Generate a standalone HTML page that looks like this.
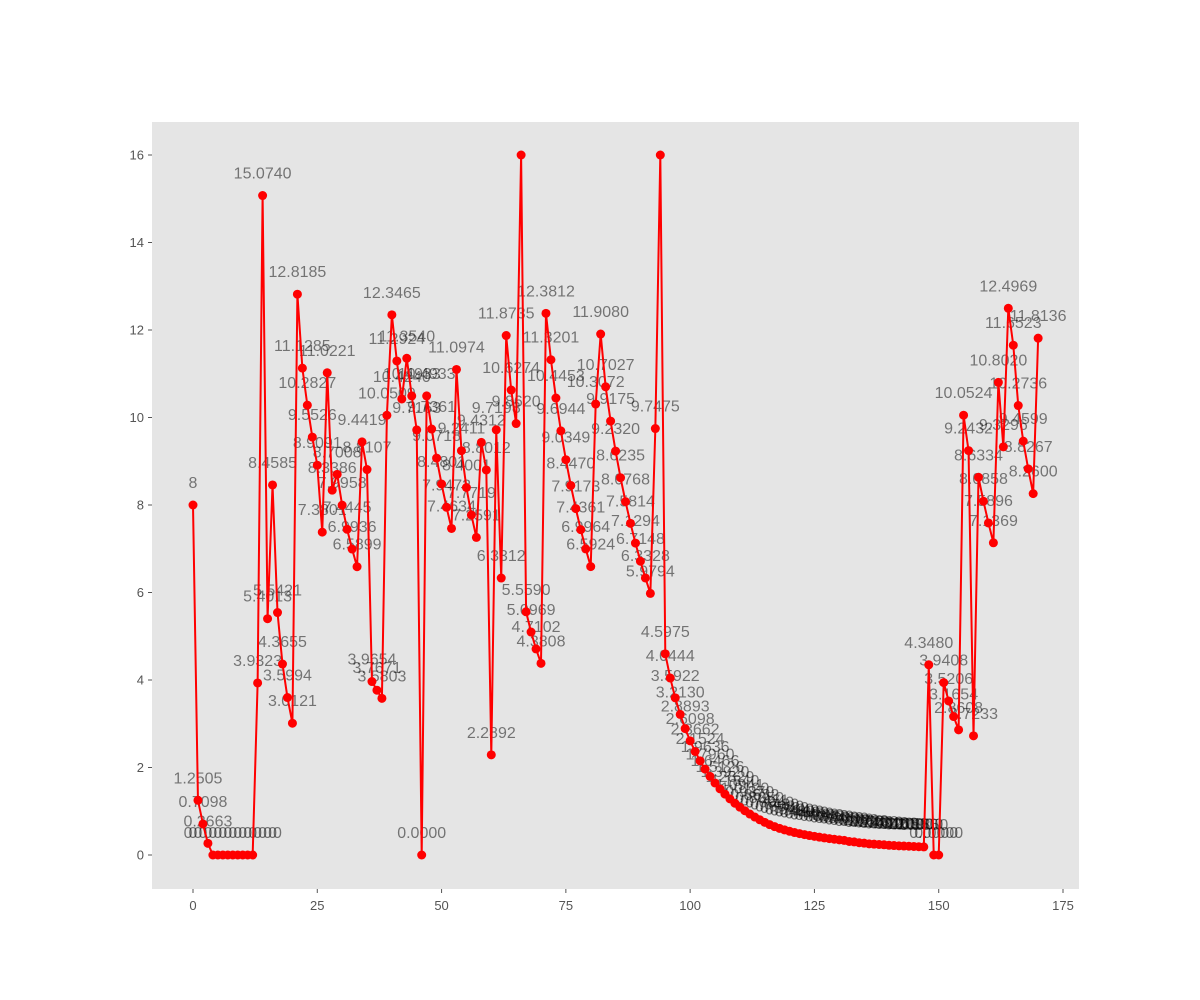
<!DOCTYPE html>
<html><head><meta charset="utf-8"><style>
body{margin:0;background:#fff}
svg{display:block;font-family:"Liberation Sans","DejaVu Sans",sans-serif}
</style></head><body>
<svg id="chart" width="1200" height="1000" xmlns="http://www.w3.org/2000/svg">
<rect x="152" y="122" width="927" height="767" fill="#e5e5e5"/>
<g id="xt"></g>
<g id="yt"></g>
<g id="lbl"></g>
<g id="ser"></g>
</svg>
<script>
const values = [8,1.2505,0.7098,0.2663,0,0,0,0,0,0,0,0,0,3.9323,15.0740,5.4013,8.4585,5.5421,4.3655,3.5994,3.0121,12.8185,11.1285,10.2827,9.5526,8.9091,7.3801,11.0221,8.3386,8.7008,7.9958,7.4445,6.9936,6.5899,9.4419,8.8107,3.9654,3.7671,3.5803,10.0509,12.3465,11.2924,10.4240,11.3540,10.4933,9.7163,0,10.4933,9.7361,9.0718,8.4801,7.9472,7.4634,11.0974,9.2411,8.4001,7.7719,7.2591,9.4312,8.8012,2.2892,9.7198,6.3312,11.8735,10.6274,9.8620,16,5.5590,5.0969,4.7102,4.3808,12.3812,11.3201,10.4453,9.6944,9.0349,8.4470,7.9173,7.4361,6.9964,6.5924,10.3072,11.9080,10.7027,9.9175,9.2320,8.6235,8.0768,7.5814,7.1294,6.7148,6.3328,5.9794,9.7475,16,4.5975,4.0444,3.5922,3.2130,2.8893,2.6098,2.3662,2.1524,1.9636,1.7960,1.6466,1.5126,1.3920,1.2829,1.1840,1.0941,1.0120,0.9370,0.8682,0.8050,0.7471,0.6940,0.6480,0.6080,0.5730,0.5420,0.5140,0.4890,0.4660,0.4450,0.4260,0.4080,0.3910,0.3750,0.3600,0.3460,0.3330,0.3100,0.2990,0.2800,0.2710,0.2550,0.2480,0.2410,0.2340,0.2220,0.2160,0.2100,0.2050,0.2000,0.1950,0.1900,0.1850,4.3480,0,0,3.9408,3.5206,3.1654,2.8608,10.0524,9.2432,2.7233,8.6334,8.0858,7.5896,7.1369,10.8020,9.3296,12.4969,11.6523,10.2736,9.4599,8.8267,8.2600,11.8136];
const integerLabelIdx = [0,4,5,6,7,8,9,10,11,12];
const hiddenLabelIdx = [66,94];
const extraZeroLabelIdx = [-1,0,1,2,3,13,14,15,16,17];
const xTicks = [0,25,50,75,100,125,150,175];
const yTicks = [0,2,4,6,8,10,12,14,16];
const X = v => 193 + v * (870/175);
const Y = v => 855 - v * 43.75;
const NS = "http://www.w3.org/2000/svg";
function mk(tag, attrs, parent){const e=document.createElementNS(NS,tag);for(const k in attrs)e.setAttribute(k,attrs[k]);parent.appendChild(e);return e;}
const xt=document.getElementById('xt'), yt=document.getElementById('yt'), lbl=document.getElementById('lbl'), ser=document.getElementById('ser');
xTicks.forEach(t=>{
  const l=mk('line',{x1:X(t),x2:X(t),y1:889,y2:893,stroke:'#555'},xt);
  
  
  const tx=mk('text',{x:X(t),y:910,'text-anchor':'middle','font-size':13,fill:'#555'},xt);
  tx.textContent=t;
  
  
});
yTicks.forEach(t=>{
  const l=mk('line',{x1:148,x2:152,y1:Y(t),y2:Y(t),stroke:'#555'},yt);
  
  
  const tx=mk('text',{x:144,y:Y(t)+4.5,'text-anchor':'end','font-size':13,fill:'#555'},yt);
  tx.textContent=t;
  
  
});
function addLabel(i,v,s){
  const t=mk('text',{x:X(i),y:Y(v)-17,'text-anchor':'middle','font-size':16,fill:'#000','fill-opacity':0.5},lbl);
  t.textContent=s;
  
  
}
values.forEach((v,i)=>{
  if(hiddenLabelIdx.includes(i)) return;
  addLabel(i,v, integerLabelIdx.includes(i)? String(Math.round(v)) : v.toFixed(4));
});
extraZeroLabelIdx.forEach(i=>addLabel(i,0,'0'));
const pts=values.map((v,i)=>X(i).toFixed(2)+','+Y(v).toFixed(2)).join(' ');
const pl=mk('polyline',{points:pts,fill:'none',stroke:'#ff0000','stroke-width':2},ser);


values.forEach((v,i)=>{
  const c=mk('circle',{cx:X(i),cy:Y(v),r:4.5,fill:'#ff0000'},ser);
  
  
});
</script>
</body></html>
